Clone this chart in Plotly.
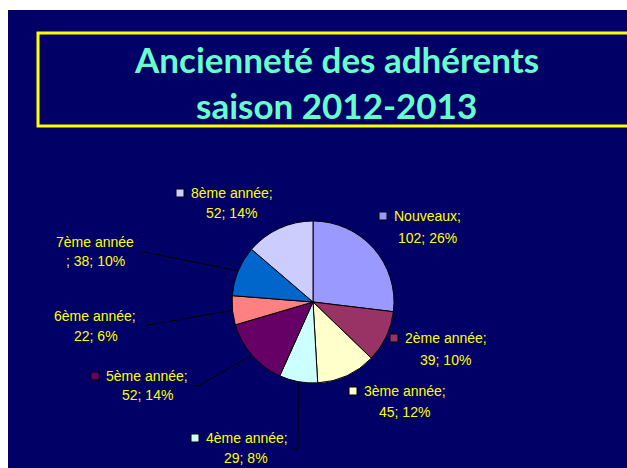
import math
import plotly.graph_objects as go

# ---- data ----
categories = ["Nouveaux", "2ème année", "3ème année", "4ème année",
              "5ème année", "6ème année", "7ème année", "8ème année"]
values = [102, 39, 45, 29, 52, 22, 38, 52]
percents = [26, 10, 12, 8, 14, 6, 10, 14]
colors = ["#9999FF", "#993366", "#FFFFCC", "#CCFFFF",
          "#660066", "#FF8080", "#0066CC", "#CCCCFF"]
title_lines = ["Ancienneté des adhérents", "saison 2012-2013"]

W, H = 627, 468
NAVY = "#000066"
YELLOW = "#FFFF00"


def px(x):
    return x / W


def py(y):
    return 1 - y / H


# pie geometry (pixels)
CX, CY, R = 313, 302, 81

# label layout: text left x, line1 y, line2 center x, line2 y, show key, leader
label_layout = {
    "Nouveaux":   dict(tx=393, ty=216, cx2=427, ty2=238, key=True, leader=None),
    "2ème année": dict(tx=404, ty=338, cx2=445, ty2=360, key=True, leader=None),
    "3ème année": dict(tx=363, ty=391, cx2=404, ty2=412, key=True, leader=None),
    "4ème année": dict(tx=205, ty=438, cx2=246, ty2=458, key=True,
                       leader=[(293, 449), (298, 449)]),
    "5ème année": dict(tx=105, ty=376, cx2=147, ty2=395, key=True,
                       leader=[(193, 386), (198, 386)]),
    "6ème année": dict(tx=53, ty=316, cx2=96, ty2=336, key=False,
                       leader=[(143, 326)]),
    "7ème année": dict(tx=55, ty=242, cx2=95, ty2=261, key=False,
                       leader=[(139, 251)]),
    "8ème année": dict(tx=190, ty=193, cx2=231, ty2=213, key=True, leader=None),
}

fig = go.Figure()

fig.add_trace(go.Pie(
    labels=categories,
    values=values,
    sort=False,
    direction="clockwise",
    rotation=0,
    marker=dict(colors=colors, line=dict(color="black", width=1)),
    textinfo="none",
    hoverinfo="label+value+percent",
    showlegend=False,
    domain=dict(x=[px(CX - R), px(CX + R)], y=[py(CY + R), py(CY - R)]),
))

shapes = []
annotations = []

# navy background
shapes.append(dict(type="rect", xref="paper", yref="paper",
                   x0=px(8), x1=px(W + 5), y0=py(H + 5), y1=py(10),
                   fillcolor=NAVY, line=dict(width=0), layer="below"))
# title box
shapes.append(dict(type="rect", xref="paper", yref="paper",
                   x0=px(38), x1=px(W + 20), y0=py(126), y1=py(33),
                   fillcolor="rgba(0,0,0,0)", line=dict(color=YELLOW, width=3),
                   layer="above"))

title_y = [59, 105]
for line, ty in zip(title_lines, title_y):
    annotations.append(dict(
        text=line, xref="paper", yref="paper", x=px(336), y=py(ty),
        xanchor="center", yanchor="middle", showarrow=False,
        font=dict(family="Lato", size=35, color="#66FFCC", weight="bold"),
    ))

total = sum(values)
cum = 0
font_lbl = dict(family="Liberation Sans, Arial", size=14, color=YELLOW)
for cat, val, pct, col in zip(categories, values, percents, colors):
    mid = (cum + val / 2) / total
    cum += val
    ang = 2 * math.pi * mid
    ex, ey = CX + R * math.sin(ang), CY - R * math.cos(ang)
    lay = label_layout[cat]
    if cat == "7ème année":
        l1, l2 = cat, f"; {val}; {pct}%"
    else:
        l1, l2 = f"{cat};", f"{val}; {pct}%"
    annotations.append(dict(text=l1, xref="paper", yref="paper",
                            x=px(lay["tx"]), y=py(lay["ty"]), xanchor="left",
                            yanchor="middle", showarrow=False, font=font_lbl,
                            borderpad=0))
    annotations.append(dict(text=l2, xref="paper", yref="paper",
                            x=px(lay["cx2"]), y=py(lay["ty2"]), xanchor="center",
                            yanchor="middle", showarrow=False, font=font_lbl,
                            borderpad=0))
    if lay["key"]:
        kx = lay["tx"] - 14
        shapes.append(dict(type="rect", xref="paper", yref="paper",
                           x0=px(kx), x1=px(kx + 8),
                           y0=py(lay["ty"] + 4), y1=py(lay["ty"] - 4),
                           fillcolor=col, line=dict(color="black", width=1)))
    if lay["leader"]:
        pts = lay["leader"] + [(ex, ey)]
        path = "M " + " L ".join(f"{px(x)},{py(y)}" for x, y in pts)
        shapes.append(dict(type="path", xref="paper", yref="paper", path=path,
                           line=dict(color="black", width=1)))

fig.update_layout(
    width=W, height=H,
    margin=dict(l=0, r=0, t=0, b=0),
    paper_bgcolor="white",
    plot_bgcolor="white",
    shapes=shapes,
    annotations=annotations,
)

fig.write_html(
    "out.html",
    config={"displayModeBar": False},
    post_script="document.body.style.margin='0';document.body.style.overflow='hidden';",
)
